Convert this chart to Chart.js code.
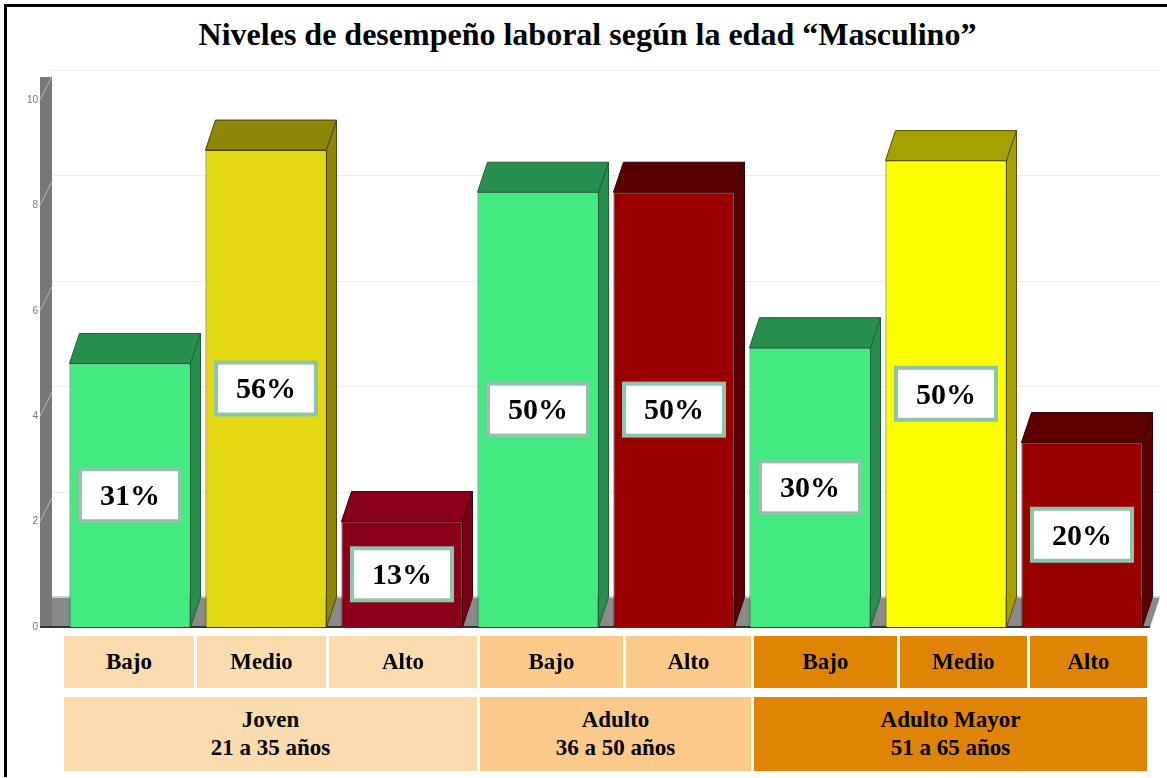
<!DOCTYPE html>
<html>
<head>
<meta charset="utf-8">
<script src="https://cdn.jsdelivr.net/npm/chart.js@4.4.0/dist/chart.umd.min.js"></script>
<style>
  html, body { margin: 0; overflow: hidden; }
  body { background: #fff; font-family: "Liberation Serif", "Times New Roman", serif; }
  #frame { position: absolute; left: 4px; top: 4px; width: 1160px; height: 770px; border-left: 3px solid #000; border-top: 3px solid #000; }
  #title { position: absolute; left: 4px; top: 16px; width: 1167px; text-align: center; font-weight: bold; font-size: 32px; }
  #chart { position: absolute; left: 0; top: 0; }
  .cell { position: absolute; display: flex; align-items: center; justify-content: center; text-align: center;
          font-weight: bold; font-size: 23px; line-height: 28px; color: #000; }
</style>
</head>
<body>
<div id="frame"></div>
<div id="title">Niveles de desempeño laboral según la edad “Masculino”</div>
<canvas id="chart" width="1167" height="657"></canvas>
<div id="table"></div>
<script>
// --- datos ---
const levels = ['Bajo', 'Medio', 'Alto', 'Bajo', 'Alto', 'Bajo', 'Medio', 'Alto'];
const groupOf = [0, 0, 0, 1, 1, 2, 2, 2];
const groups = ['Joven', 'Adulto', 'Adulto Mayor'];
const groupAges = ['21 a 35 años', '36 a 50 años', '51 a 65 años'];
const values = [5.0, 9.05, 2.0, 8.25, 8.25, 5.3, 8.85, 3.5];
const percentLabels = ['31%', '56%', '13%', '50%', '50%', '30%', '50%', '20%'];
const yTicks = [0, 2, 4, 6, 8, 10];

// colores de cada barra: frente, tapa, lado, borde
const frontColors = ['#42EA7F', '#E4D812', '#8A001A', '#42EA7F', '#9B0000', '#42EA7F', '#FFFF00', '#990000'];
const topColors   = ['#27904F', '#8E8606', '#8A001A', '#27904F', '#5A0000', '#27904F', '#A6A000', '#5E0000'];
const sideColors  = ['#27904F', '#8E8606', '#7A0016', '#27904F', '#5A0000', '#27904F', '#A6A000', '#5E0000'];
const edgeColors  = ['#1F5E36', '#4A4500', '#3A0008', '#1F5E36', '#300000', '#1F5E36', '#555000', '#300000'];
const groupColors = ['#FCDBAE', '#FBCA8B', '#E08406'];

// profundidad 3D
const DX = 10, DY = 30;

const box3d = {
  id: 'box3d',
  beforeDatasetsDraw(chart) {
    const { ctx, chartArea: a, scales: { y } } = chart;
    const base = y.getPixelForValue(0);
    const top = y.getPixelForValue(10);
    const wl = a.left - 22;
    ctx.save();
    // lineas de la pared del fondo
    ctx.strokeStyle = '#EDEDED';
    ctx.lineWidth = 1;
    yTicks.slice(1).forEach(t => {
      const py = Math.round(y.getPixelForValue(t) - DY) + 0.5;
      ctx.beginPath(); ctx.moveTo(wl + 12, py); ctx.lineTo(a.right + DX, py); ctx.stroke();
    });
    // piso
    ctx.fillStyle = '#8A8A8A';
    ctx.beginPath();
    ctx.moveTo(wl, base); ctx.lineTo(wl + 12, base - DY);
    ctx.lineTo(a.right + DX, base - DY); ctx.lineTo(a.right, base);
    ctx.closePath(); ctx.fill();
    ctx.strokeStyle = '#D0D0D0'; ctx.lineWidth = 2;
    ctx.beginPath(); ctx.moveTo(wl + 12, base - DY); ctx.lineTo(a.right + DX, base - DY); ctx.stroke();
    // pared izquierda
    ctx.fillStyle = '#777777';
    ctx.fillRect(wl, top - 23, 12, base - top + 23);
    ctx.strokeStyle = '#B8B8B8'; ctx.lineWidth = 1;
    yTicks.slice(1).forEach(t => {
      const py = y.getPixelForValue(t);
      ctx.beginPath(); ctx.moveTo(wl, py); ctx.lineTo(wl + 12, py - 24); ctx.stroke();
    });
    // linea base
    ctx.strokeStyle = '#333'; ctx.lineWidth = 2;
    ctx.beginPath(); ctx.moveTo(wl, base); ctx.lineTo(a.right, base); ctx.stroke();
    ctx.restore();
  },
  afterDatasetsDraw(chart) {
    const { ctx } = chart;
    const meta = chart.getDatasetMeta(0);
    ctx.save();
    meta.data.forEach((bar, i) => {
      const { x, y, base, width } = bar.getProps(['x', 'y', 'base', 'width'], true);
      const l = x - width / 2, r = x + width / 2;
      ctx.strokeStyle = edgeColors[i];
      ctx.lineWidth = 1;
      // tapa
      ctx.fillStyle = topColors[i];
      ctx.beginPath();
      ctx.moveTo(l, y); ctx.lineTo(l + DX, y - DY); ctx.lineTo(r + DX, y - DY); ctx.lineTo(r, y);
      ctx.closePath(); ctx.fill(); ctx.stroke();
      // lado
      ctx.fillStyle = sideColors[i];
      ctx.beginPath();
      ctx.moveTo(r, y); ctx.lineTo(r + DX, y - DY); ctx.lineTo(r + DX, base - DY); ctx.lineTo(r, base);
      ctx.closePath(); ctx.fill(); ctx.stroke();
      // etiqueta
      const cy = (y + base) / 2;
      const bw = 100, bh = 52;
      ctx.fillStyle = '#FFFFFF';
      ctx.fillRect(x - bw / 2, cy - bh / 2, bw, bh);
      ctx.strokeStyle = '#8CC5A7'; ctx.lineWidth = 4;
      ctx.strokeRect(x - bw / 2, cy - bh / 2, bw, bh);
      ctx.fillStyle = '#000';
      ctx.font = 'bold 30px "Liberation Serif", "Times New Roman", serif';
      ctx.textAlign = 'center'; ctx.textBaseline = 'middle';
      ctx.fillText(percentLabels[i], x, cy + 2);
    });
    ctx.restore();
  }
};

new Chart(document.getElementById('chart'), {
  type: 'bar',
  data: {
    labels: levels.map((lv, i) => groups[groupOf[i]] + ' ' + lv),
    datasets: [{
      data: values,
      backgroundColor: frontColors,
      borderColor: edgeColors,
      borderWidth: 1,
      barPercentage: 0.89,
      categoryPercentage: 1.0
    }]
  },
  options: {
    responsive: false,
    animation: false,
    layout: { padding: { top: 100, bottom: 6, right: 17, left: 0 } },
    plugins: { legend: { display: false }, tooltip: { enabled: false } },
    scales: {
      x: { display: false },
      y: {
        min: 0, max: 10,
        afterFit: s => { s.width = 62; },
        ticks: { stepSize: 2, padding: 24, color: '#777', font: { family: 'Liberation Sans', size: 10 } },
        grid: { display: false, drawTicks: false },
        border: { display: false }
      }
    }
  },
  plugins: [box3d]
});

// tabla de categorias
const cellEdges = [[64, 194], [197, 326], [329, 477], [480, 623], [626, 751], [754, 897], [900, 1027], [1030, 1147]];
const groupEdges = [[64, 477], [480, 751], [754, 1147]];
const table = document.getElementById('table');
levels.forEach((lv, i) => {
  const d = document.createElement('div');
  d.className = 'cell';
  d.textContent = lv;
  Object.assign(d.style, { left: cellEdges[i][0] + 'px', width: (cellEdges[i][1] - cellEdges[i][0]) + 'px',
    top: '636px', height: '52px', background: groupColors[groupOf[i]] });
  table.appendChild(d);
});
groups.forEach((g, i) => {
  const d = document.createElement('div');
  d.className = 'cell';
  d.innerHTML = g + '<br>' + groupAges[i];
  Object.assign(d.style, { left: groupEdges[i][0] + 'px', width: (groupEdges[i][1] - groupEdges[i][0]) + 'px',
    top: '697px', height: '74px', background: groupColors[i] });
  table.appendChild(d);
});
</script>
</body>
</html>
